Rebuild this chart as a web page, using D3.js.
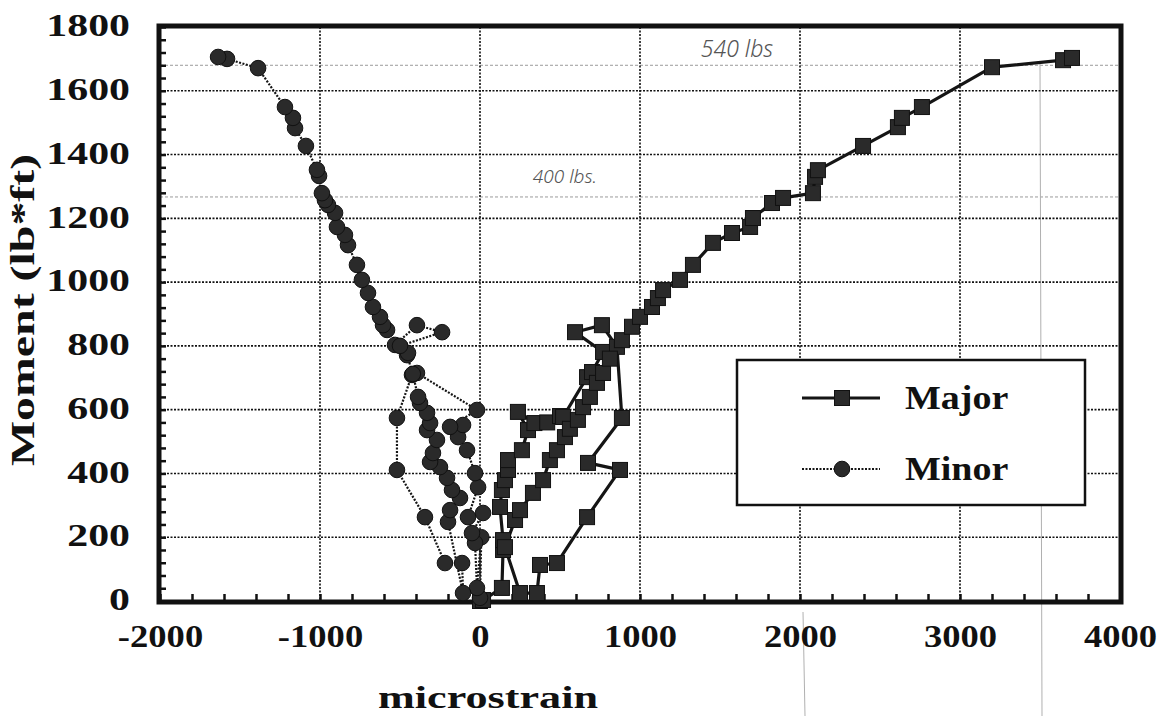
<!DOCTYPE html>
<html><head><meta charset="utf-8">
<script src="https://cdn.jsdelivr.net/npm/d3@7"></script>
<style>body{margin:0;background:#fff;} svg{display:block;}</style>
</head><body><svg id="c" width="1165" height="716"></svg>
<script>
// ---------------- data ----------------
const majorStrain = [0,19,137,144,144,125,137,156,175,175,262,300,237,340,420,500,519,669,700,769,594,762,856,887,675,875,669,481,375,356,250,156,219,250,331,394,437,481,531,562,612,644,687,731,769,812,887,950,1000,1075,1112,1144,1250,1331,1456,1575,1688,1706,1825,1894,2081,2094,2112,2394,2612,2637,2762,3200,3644,3700];
const majorMoment = [0,3,41,160,191,295,348,379,411,442,473,536,593,558,560,580,577,702,718,781,843,865,797,574,433,411,263,119,113,25,25,169,254,285,339,379,442,473,514,540,568,608,640,684,715,760,818,860,891,922,950,975,1007,1054,1123,1154,1173,1201,1248,1264,1279,1330,1351,1427,1486,1515,1549,1674,1696,1703];
const minorStrain = [0,8,-19,-31,-50,19,-75,-12,-31,-81,-137,-106,-187,-19,-394,-425,-519,-519,-344,-219,-112,-106,-200,-187,-125,-175,-206,-250,-312,-294,-269,-331,-312,-331,-375,-387,-420,-456,-450,-531,-394,-237,-500,-581,-606,-625,-669,-700,-738,-769,-825,-844,-894,-906,-950,-969,-988,-1006,-1019,-1088,-1156,-1169,-1219,-1387,-1581,-1637];
const minorMoment = [10,200,41,182,213,276,263,357,401,473,514,552,546,599,715,709,574,411,263,119,119,25,248,285,323,348,386,420,436,464,505,536,558,590,621,640,712,771,778,803,865,843,800,850,865,891,922,966,1007,1054,1116,1148,1173,1217,1242,1257,1279,1333,1352,1427,1483,1515,1549,1671,1700,1706];
const xTicks = [-2000,-1000,0,1000,2000,3000,4000];
const yTicks = [0,200,400,600,800,1000,1200,1400,1600,1800];
const seriesNames = ["Major","Minor"];
const refLoadMoments = [1680,1267];
const refLoadLabels = ["540 lbs","400 lbs."];
const xTitle = "microstrain";
const yTitle = "Moment (lb*ft)";

// ---------------- chart ----------------
const svg = d3.select("#c");
const x = d3.scaleLinear().domain([-2000,4000]).range([160,1120]);
const y = d3.scaleLinear().domain([0,1800]).range([601,27]);
const FONT = "Liberation Serif, Times New Roman, Times, serif";

function stretch(sel,k){
  sel.each(function(){
    const w = this.getComputedTextLength();
    this.setAttribute("textLength", w*k);
    this.setAttribute("lengthAdjust","spacingAndGlyphs");
  });
}

// faint scan/pencil reference lines
const g0 = svg.append("g");
g0.selectAll("line.ref").data(refLoadMoments).join("line")
  .attr("x1",x(-2000)).attr("x2",x(4000))
  .attr("y1",d=>y(d)).attr("y2",d=>y(d))
  .attr("stroke","#9a9a9a").attr("stroke-width",1).attr("stroke-dasharray","3,2");
g0.append("line").attr("x1",x(3500)).attr("x2",x(3500)+2).attr("y1",y(1690)).attr("y2",716)
  .attr("stroke","#b0b0b0").attr("stroke-width",1);
g0.append("line").attr("x1",x(2000)+3).attr("x2",x(2000)+5).attr("y1",612).attr("y2",716)
  .attr("stroke","#b0b0b0").attr("stroke-width",1);

// gridlines
const grid = svg.append("g");
grid.selectAll("line.gx").data(xTicks.slice(1,-1)).join("line")
  .attr("x1",d=>x(d)).attr("x2",d=>x(d)).attr("y1",y(1800)).attr("y2",y(0))
  .attr("stroke","#111").attr("stroke-width",1.6).attr("stroke-dasharray","2,1.5");
grid.selectAll("line.gy").data(yTicks.slice(1,-1)).join("line")
  .attr("x1",x(-2000)).attr("x2",x(4000)).attr("y1",d=>y(d)).attr("y2",d=>y(d))
  .attr("stroke","#111").attr("stroke-width",1.6).attr("stroke-dasharray","2,1.5");

// handwritten annotations
svg.append("text").attr("x",x(1380)).attr("y",y(1680)-8)
  .attr("font-family","'Noto Sans',sans-serif").attr("font-size",23).attr("fill","#555")
  .attr("font-style","italic").attr("font-weight",300).text(refLoadLabels[0]);
svg.append("text").attr("x",x(330)).attr("y",y(1267)-14)
  .attr("font-family","'Noto Sans',sans-serif").attr("font-size",19).attr("fill","#555")
  .attr("font-style","italic").attr("font-weight",300).text(refLoadLabels[1]);

// minor ticks
const axL = svg.append("g").attr("transform",`translate(${x(-2000)},0)`)
  .call(d3.axisLeft(y).tickValues(d3.range(0,1801,40)).tickSize(-6).tickFormat(""));
const axB = svg.append("g").attr("transform",`translate(0,${y(0)})`)
  .call(d3.axisBottom(x).tickValues(d3.range(-2000,4001,200)).tickSize(-7).tickFormat(""));
[axL,axB].forEach(a=>{a.select(".domain").remove(); a.selectAll("line").attr("stroke","#111").attr("stroke-width",2.5);});

// tick labels
const axL2 = svg.append("g").attr("transform",`translate(${x(-2000)},0)`)
  .call(d3.axisLeft(y).tickValues(yTicks).tickSize(0).tickPadding(30).tickFormat(d=>String(d)));
axL2.select(".domain").remove();
axL2.selectAll("text").attr("font-family",FONT).attr("font-weight","bold").attr("font-size",31)
  .attr("fill","#111").attr("dy","0.28em");
stretch(axL2.selectAll("text"),1.35);

const axB2 = svg.append("g").attr("transform",`translate(0,${y(0)})`)
  .call(d3.axisBottom(x).tickValues(xTicks).tickSize(0).tickPadding(24).tickFormat(d=>String(d)));
axB2.select(".domain").remove();
axB2.selectAll("text").attr("font-family",FONT).attr("font-weight","bold").attr("font-size",31)
  .attr("fill","#111").attr("dy","0.71em");
stretch(axB2.selectAll("text"),1.18);

// frame
svg.append("rect").attr("x",x(-2000)-1).attr("y",y(1800)-1)
  .attr("width",x(4000)-x(-2000)+2).attr("height",y(0)-y(1800)+2)
  .attr("fill","none").attr("stroke","#111").attr("stroke-width",5);

// titles
const xt = svg.append("text").attr("x",488).attr("y",708).attr("text-anchor","middle")
  .attr("font-family",FONT).attr("font-weight","bold").attr("font-size",32).attr("fill","#111").text(xTitle);
stretch(xt,1.38);
const yt = svg.append("text").attr("transform","translate(34,310) rotate(-90)").attr("text-anchor","middle")
  .attr("font-family",FONT).attr("font-weight","bold").attr("font-size",33).attr("fill","#111").text(yTitle);
stretch(yt,1.45);

// series
const major = majorStrain.map((s,i)=>({s, m:majorMoment[i]}));
const minor = minorStrain.map((s,i)=>({s, m:minorMoment[i]}));
const line = d3.line().x(d=>x(d.s)).y(d=>y(d.m));
const MK = 15, MR = 7.8;

svg.append("path").datum(major).attr("d",line).attr("fill","none")
  .attr("stroke","#151515").attr("stroke-width",3.2).attr("stroke-linejoin","round");
svg.append("path").datum(minor).attr("d",line).attr("fill","none")
  .attr("stroke","#151515").attr("stroke-width",2.2).attr("stroke-dasharray","2,1.5");

svg.append("g").selectAll("rect").data(major).join("rect")
  .attr("x",d=>x(d.s)-MK/2).attr("y",d=>y(d.m)-MK/2).attr("width",MK).attr("height",MK)
  .attr("fill","#2a2a2a").attr("stroke","#111").attr("stroke-width",1);
svg.append("g").selectAll("circle").data(minor).join("circle")
  .attr("cx",d=>x(d.s)).attr("cy",d=>y(d.m)).attr("r",MR)
  .attr("fill","#2a2a2a").attr("stroke","#111").attr("stroke-width",1);

// legend
const lg = svg.append("g");
lg.append("rect").attr("x",737).attr("y",360).attr("width",348).attr("height",145)
  .attr("fill","#fff").attr("stroke","#111").attr("stroke-width",2.5);
const legRows = [{y:398, dash:null, w:3.2, shape:"sq"},{y:469, dash:"2,1.5", w:2.2, shape:"ci"}];
legRows.forEach((r,i)=>{
  lg.append("line").attr("x1",802).attr("x2",880).attr("y1",r.y).attr("y2",r.y)
    .attr("stroke","#151515").attr("stroke-width",r.w).attr("stroke-dasharray",r.dash);
  if(r.shape==="sq") lg.append("rect").attr("x",842-MK/2).attr("y",r.y-MK/2).attr("width",MK).attr("height",MK)
    .attr("fill","#2a2a2a").attr("stroke","#111");
  else lg.append("circle").attr("cx",842).attr("cy",r.y).attr("r",MR).attr("fill","#2a2a2a").attr("stroke","#111");
  const t = lg.append("text").attr("x",905).attr("y",r.y+11).attr("font-family",FONT).attr("font-weight","bold")
    .attr("font-size",33).attr("fill","#111").text(seriesNames[i]);
  stretch(t,1.15);
});
</script></body></html>
